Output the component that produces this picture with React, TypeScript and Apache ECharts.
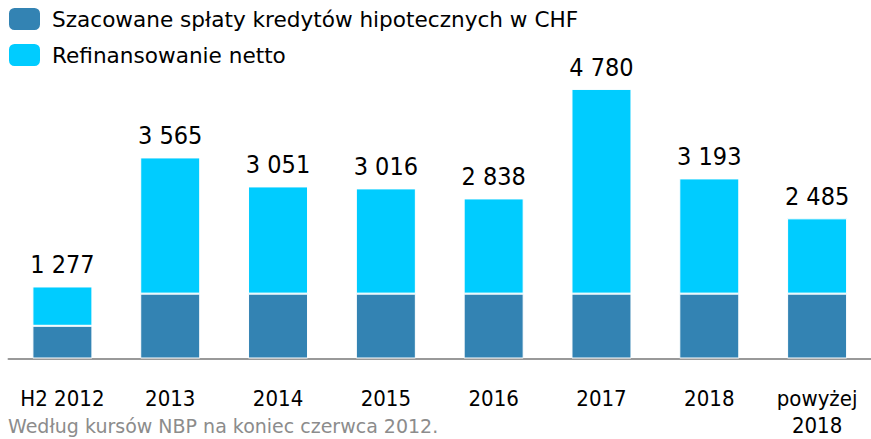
import React, { useEffect, useRef } from "react";
import * as echarts from "echarts";

const categories = ["H2 2012", "2013", "2014", "2015", "2016", "2017", "2018", "powyżej\n2018"];
const repayments = [580, 1150, 1150, 1150, 1150, 1150, 1150, 1150];
const refinancing = [697, 2415, 1901, 1866, 1688, 3630, 2043, 1335];
const totalLabels = ["1 277", "3 565", "3 051", "3 016", "2 838", "4 780", "3 193", "2 485"];
const seriesNames = ["Szacowane spłaty kredytów hipotecznych w CHF", "Refinansowanie netto"];
const footnote = "Według kursów NBP na koniec czerwca 2012.";

const COND = "'DejaVu Sans Condensed', 'Liberation Sans', sans-serif";
const REG = "'DejaVu Sans', sans-serif";

export default function App() {
  const ref = useRef<HTMLDivElement>(null);
  useEffect(() => {
    document.body.style.margin = "0";
    const chart = echarts.init(ref.current!, undefined, { renderer: "svg" });
    chart.setOption({
      animation: false,
      textStyle: { fontFamily: COND },
      legend: {
        orient: "vertical",
        left: 9,
        top: 8,
        padding: 0,
        itemWidth: 31,
        itemHeight: 22,
        itemGap: 14,
        itemStyle: { borderWidth: 0 },
        textStyle: { fontSize: 21.6, color: "#000", fontFamily: REG, padding: [6, 0, 0, 7] },
        data: seriesNames,
      },
      grid: { left: 8.5, top: 76.5, width: 872, height: 282 },
      xAxis: {
        type: "category",
        data: categories,
        axisLine: { lineStyle: { color: "#999", width: 2 } },
        axisTick: { show: false },
        axisLabel: { color: "#000", fontSize: 22, lineHeight: 27, margin: 26, fontFamily: COND, interval: 0 },
      },
      yAxis: { type: "value", min: 0, max: 5000, show: false, splitLine: { show: false } },
      series: [
        {
          name: seriesNames[0],
          type: "bar",
          stack: "a",
          barWidth: 60,
          data: repayments,
          itemStyle: { color: "#3383B3", borderColor: "#fff", borderWidth: 1 },
        },
        {
          name: seriesNames[1],
          type: "bar",
          stack: "a",
          barWidth: 60,
          data: refinancing,
          itemStyle: { color: "#00CCFF", borderColor: "#fff", borderWidth: 1 },
          label: {
            show: true,
            position: "top",
            distance: 9,
            fontSize: 25,
            color: "#000",
            fontFamily: COND,
            formatter: (p: any) => totalLabels[p.dataIndex],
          },
        },
      ],
      graphic: [
        {
          type: "text",
          left: 8,
          top: 416,
          style: { text: footnote, fontSize: 19, fill: "#8c8c8c", fontFamily: REG },
        },
      ],
    });
    return () => chart.dispose();
  }, []);
  return <div ref={ref} style={{ width: 871, height: 439 }} />;
}
